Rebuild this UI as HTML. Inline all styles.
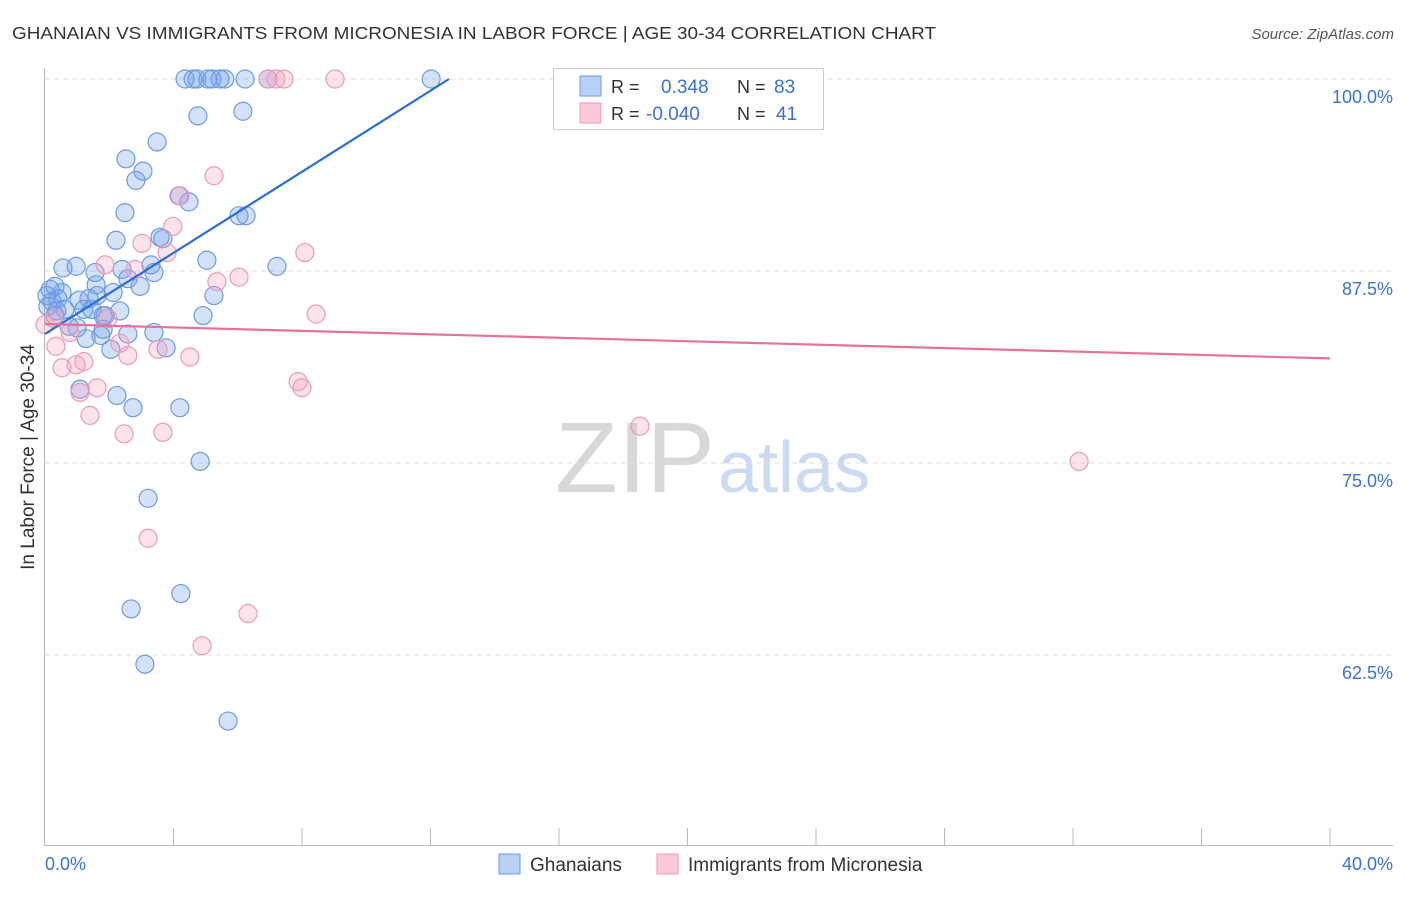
<!DOCTYPE html>
<html><head><meta charset="utf-8"><style>
body{margin:0;background:#fff;font-family:"Liberation Sans",sans-serif;}
svg text{font-family:"Liberation Sans",sans-serif;}
</style></head><body>
<svg id="chart" width="1406" height="892">
<text x="12" y="39" font-size="17.5" fill="#333" textLength="924" lengthAdjust="spacingAndGlyphs">GHANAIAN VS IMMIGRANTS FROM MICRONESIA IN LABOR FORCE | AGE 30-34 CORRELATION CHART</text>
<text x="1394" y="39" font-size="15" fill="#555" font-style="italic" text-anchor="end">Source: ZipAtlas.com</text>
<text transform="translate(34,457) rotate(-90)" font-size="19" fill="#333" text-anchor="middle">In Labor Force | Age 30-34</text>
<g><text x="555" y="492" font-family="Liberation Serif,serif" font-size="100" fill="#d8d8d8" textLength="160" lengthAdjust="spacingAndGlyphs">ZIP</text><text x="718" y="492" font-size="72" fill="#c9daf2">atlas</text></g>
<g id="grid"></g><g id="axes"></g><g id="pts"></g><g id="lines"></g>
<g>
<rect x="553.5" y="68.5" width="270" height="61" fill="#fff" stroke="#ccc"/>
<rect x="580" y="76" width="21" height="20" fill="#b7d0f5" stroke="#6d9be0"/>
<rect x="580" y="103" width="21" height="20" fill="#fbc9d8" stroke="#eb9ab5"/>
<text x="611" y="93" font-size="18" fill="#333">R =</text><text x="661" y="93" font-size="19" fill="#3a73d4">0.348</text>
<text x="737" y="93" font-size="18" fill="#333">N =</text><text x="774" y="93" font-size="19" fill="#3a73d4">83</text>
<text x="611" y="120" font-size="18" fill="#333">R =</text><text x="646" y="120" font-size="19" fill="#3a73d4">-0.040</text>
<text x="737" y="120" font-size="18" fill="#333">N =</text><text x="776" y="120" font-size="19" fill="#3a73d4">41</text>
</g>
<g>
<rect x="499" y="854" width="21" height="20" fill="#b7d0f5" stroke="#6d9be0"/>
<text x="530" y="871" font-size="19" fill="#333">Ghanaians</text>
<rect x="657" y="854" width="21" height="20" fill="#fbc9d8" stroke="#eb9ab5"/>
<text x="688" y="871" font-size="19" fill="#333">Immigrants from Micronesia</text>
</g>
</svg>
<script>
const yTicks=[100,87.5,75,62.5];
const yTickLabels=["100.0%","87.5%","75.0%","62.5%"];
const xTickLabels=["0.0%","40.0%"];
const blueX=[4.36,4.61,4.73,5.07,5.20,5.45,5.60,6.23,6.94,12.02,4.76,6.16,3.49,2.52,3.05,2.83,4.17,4.48,2.49,6.04,6.26,2.21,3.58,3.67,5.04,7.22,0.56,0.97,1.56,2.40,3.30,3.39,2.58,2.96,0.31,0.53,1.59,1.62,2.12,5.26,0.06,0.22,0.09,0.40,1.06,1.37,1.21,1.81,1.87,2.33,0.37,0.31,4.92,0.75,1.00,1.81,2.58,3.39,1.28,1.74,3.77,2.05,1.09,2.24,2.74,4.20,4.83,3.21,2.68,4.23,3.11,5.70,0.16,0.62,1.46];
const blueY=[100,100,100,100,100,100,100,100,100,100,97.6,97.9,95.9,94.8,94.0,93.4,92.4,92.0,91.3,91.1,91.1,89.5,89.7,89.6,88.2,87.8,87.7,87.8,87.4,87.6,87.9,87.4,87.0,86.5,86.5,86.1,86.6,85.9,86.1,85.9,85.9,85.5,85.2,85.7,85.6,85.7,85.0,84.6,84.6,84.9,84.9,84.6,84.6,83.9,83.8,83.7,83.4,83.5,83.1,83.3,82.5,82.4,79.8,79.4,78.6,78.6,75.1,72.7,65.5,66.5,61.9,58.2,86.3,85.0,85.0];
const pinkX=[6.94,7.19,7.44,9.03,5.26,4.20,3.98,3.02,3.80,8.09,1.87,2.80,6.04,5.35,8.44,0.28,1.96,0.34,0.78,2.33,3.52,2.58,4.51,0.53,0.97,1.21,1.09,1.62,7.88,8.00,1.40,2.46,3.67,18.52,32.19,3.21,6.32,4.89,0.0];
const pinkY=[100,100,100,100,93.7,92.4,90.4,89.3,88.7,88.7,87.9,87.6,87.1,86.8,84.7,84.4,84.4,82.6,83.5,82.8,82.4,82.0,81.9,81.2,81.4,81.6,79.6,79.9,80.3,79.9,78.1,76.9,77.0,77.4,75.1,70.1,65.2,63.1,84.0];
const blueTrend=[83.4,1.32];   // intercept, slope
const pinkTrend=[84.05,-0.056];
const X0=45,X1=1330,Y100=79;
function sx(v){return X0+(v/40)*(X1-X0);}
function sy(v){return Y100+(100-v)/12.5*192;}
const NS="http://www.w3.org/2000/svg";
function mk(t,a,p){const e=document.createElementNS(NS,t);for(const k in a)e.setAttribute(k,a[k]);p.appendChild(e);return e;}
const grid=document.getElementById('grid'),axes=document.getElementById('axes'),pts=document.getElementById('pts'),lines=document.getElementById('lines');
yTicks.forEach((t,i)=>{
 const g=mk('line',{x1:45,x2:1393,y1:sy(t),y2:sy(t),stroke:'#ddd','stroke-dasharray':'5,4'},grid);
 
 
 const l=mk('text',{x:1393,y:sy(t)+24,'font-size':18,fill:'#3a73d4','text-anchor':'end'},axes);
 l.textContent=yTickLabels[i];
 
 
});
const ax=mk('line',{x1:44.5,x2:44.5,y1:68,y2:845,stroke:'#bbb'},axes);


const bx=mk('line',{x1:44,x2:1393,y1:845.5,y2:845.5,stroke:'#bbb'},axes);


for(let i=1;i<=10;i++){const t=mk('line',{x1:sx(i*4),x2:sx(i*4),y1:828,y2:845,stroke:'#bbb'},axes);
 
 }
const xl0=mk('text',{x:45,y:870,'font-size':18,fill:'#3a73d4'},axes);xl0.textContent=xTickLabels[0];


const xl1=mk('text',{x:1393,y:870,'font-size':18,fill:'#3a73d4','text-anchor':'end'},axes);xl1.textContent=xTickLabels[1];


blueX.forEach((x,i)=>{const c=mk('circle',{cx:sx(x),cy:sy(blueY[i]),r:9,fill:'rgba(110,160,235,0.3)',stroke:'#6d9be0','stroke-width':1.2},pts);
 
 });
pinkX.forEach((x,i)=>{const c=mk('circle',{cx:sx(x),cy:sy(pinkY[i]),r:9,fill:'rgba(245,160,190,0.3)',stroke:'#eb9ab5','stroke-width':1.2},pts);
 
 });
const bEnd=(100-blueTrend[0])/blueTrend[1];
const bl=mk('line',{x1:sx(0),y1:sy(blueTrend[0]),x2:sx(bEnd),y2:sy(100),stroke:'#2a6fd6','stroke-width':2.2},lines);


const pl=mk('line',{x1:sx(0),y1:sy(pinkTrend[0]),x2:sx(40),y2:sy(pinkTrend[0]+pinkTrend[1]*40),stroke:'#e8719c','stroke-width':2.2},lines);


</script>
</body></html>
